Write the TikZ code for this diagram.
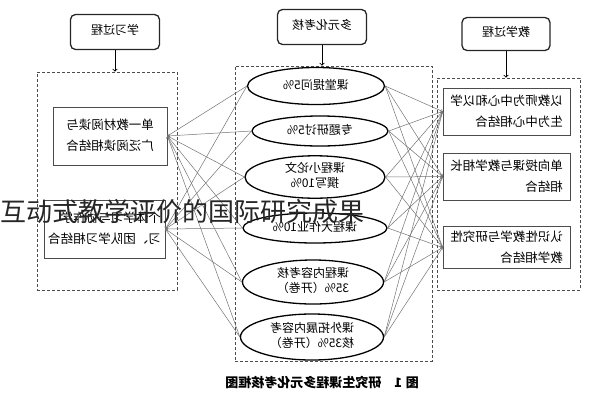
\documentclass[tikz,border=0pt]{standalone}
\usepackage{fontspec}
\usepackage{graphicx}
\setmainfont{Noto Sans CJK SC}
\usetikzlibrary{positioning,shapes.geometric}

% mirrored text, as the picture prints it
\newcommand{\mir}[2][c]{\reflectbox{\begin{tabular}{@{}#1@{}}#2\end{tabular}}}

\begin{document}
\begin{tikzpicture}[x=1pt,y=-1pt,
	topnode/.style={rectangle, rounded corners=5pt, draw=black!85, line width=1.3pt, minimum width=89pt, minimum height=35pt, font=\fontsize{12}{14}\selectfont},
	sidenode/.style={rectangle, draw=black!70, line width=0.8pt, inner sep=0pt, font=\fontsize{12.5}{21}\selectfont},
	evalnode/.style={ellipse, draw=black, line width=1.3pt, inner sep=0pt, font=\fontsize{12}{15}\selectfont},
	groupbox/.style={rectangle, draw=black!70, densely dashed, line width=0.7pt, inner sep=0pt},
	link/.style={->, draw=black!55, line width=0.5pt},
	]
	\useasboundingbox (0,0) rectangle (596,400);

	%Containers
	\node[groupbox, minimum width=140pt, minimum height=218pt](learnbox) at (107,181){};
	\node[groupbox, minimum width=197pt, minimum height=295pt](evalbox) at (333.5,213.5){};
	\node[groupbox, minimum width=143pt, minimum height=212pt](teachbox) at (508.5,184){};

	%Top nodes
	\node[topnode](learn) at (115,32){\mir{学习过程}};
	\node[topnode](assess) at (322,27){\mir{多元化考核}};
	\node[topnode, minimum width=88pt, minimum height=33pt](teach) at (506,34){\mir{教学过程}};

	%Left nodes
	\node[sidenode, minimum width=114pt, minimum height=58pt](read) at (110,136){\mir{单一教材阅读与\\广泛阅读相结合}};
	\node[sidenode, minimum width=121pt, minimum height=58pt](team) at (104.5,229){\mir[l]{个体学习与协作学\\习、团队学习相结合}};

	%Ellipses
	\node[evalnode, minimum width=137pt, minimum height=37pt](ev1) at (316,86){\mir{课堂提问5\%}};
	\node[evalnode, minimum width=136pt, minimum height=30pt](ev2) at (320,131){\mir{专题研讨5\%}};
	\node[evalnode, minimum width=140pt, minimum height=42pt](ev3) at (315,177){\mir{课程小论文\\撰写10\%}};
	\node[evalnode, minimum width=144pt, minimum height=30pt](ev4) at (315,228){\mir{课程大作业10\%}};
	\node[evalnode, minimum width=141pt, minimum height=44pt](ev5) at (313,282){\mir{课程内容考核\\35\%（开卷）}};
	\node[evalnode, minimum width=143pt, minimum height=46pt](ev6) at (312,337){\mir{课外拓展内容考\\核35\%（开卷）}};

	%Right nodes
	\node[sidenode, minimum width=127pt, minimum height=47pt](center) at (506.5,111.5){\mir[l]{以教师为中心和以学\\生为中心相结合}};
	\node[sidenode, minimum width=127pt, minimum height=47pt](mutual) at (506.5,176.5){\mir[l]{单向授课与教学相长\\相结合}};
	\node[sidenode, minimum width=127pt, minimum height=41pt](research) at (506.5,247.5){\mir[l]{认识性教学与研究性\\教学相结合}};

	%Caption
	\node[font=\fontsize{13}{15}\selectfont\bfseries](caption) at (322,383){\reflectbox{图\;1\quad 研究生课程多元化考核框图}};

	%Lines
	\draw[->, line width=0.9pt] (learn.south) -- (learnbox.north -| learn.south);
	\draw[->, line width=0.9pt] (assess.south) -- (evalbox.north -| assess.south);
	\draw[->, line width=0.9pt] (teach.south) -- (teachbox.north -| teach.south);
	\foreach \e in {1,...,6}{
		\foreach \b in {read,team}
			\draw[link] (ev\e.west) -- (\b.east);
		\foreach \b in {center,mutual,research}
			\draw[link] (ev\e.east) -- (\b.west);
	}

	%Overlay title
	\node[anchor=base west, inner sep=0pt, text=black!85, font=\fontsize{26}{30}\selectfont](title) at (0,221){互动式教学评价的国际研究成果};
\end{tikzpicture}
\end{document}
